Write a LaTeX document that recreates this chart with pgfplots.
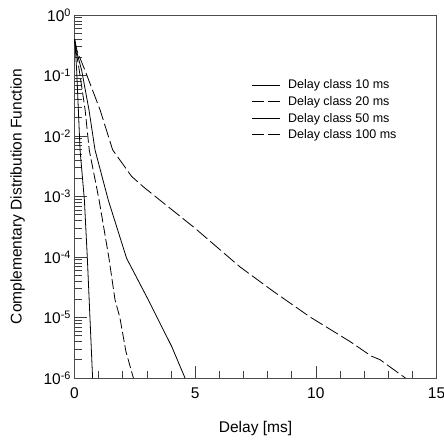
\documentclass[border=0pt]{standalone}
\usepackage{pgfplots}
\pgfplotsset{compat=1.18}
\usepackage{fontspec}
\setmainfont{Liberation Sans}
\begin{document}
\begin{tikzpicture}
\useasboundingbox (-74.5pt,-61pt) rectangle (369.5pt,378pt);
\begin{axis}[
    at={(0pt,0pt)}, anchor=south west,
    scale only axis,
    width=362pt, height=363pt,
    ymode=log, log basis y=10,
    xmin=0, xmax=15, ymin=1e-6, ymax=1,
    xtick={0,5,10,15}, minor xtick={1,2,3,4,6,7,8,9,11,12,13,14},
    ytick={1e-6,1e-5,1e-4,1e-3,1e-2,1e-1,1},
    minor ytick={2e-6,3e-6,4e-6,5e-6,6e-6,7e-6,8e-6,9e-6,
                 2e-5,3e-5,4e-5,5e-5,6e-5,7e-5,8e-5,9e-5,
                 2e-4,3e-4,4e-4,5e-4,6e-4,7e-4,8e-4,9e-4,
                 2e-3,3e-3,4e-3,5e-3,6e-3,7e-3,8e-3,9e-3,
                 2e-2,3e-2,4e-2,5e-2,6e-2,7e-2,8e-2,9e-2,
                 0.2,0.3,0.4,0.5,0.6,0.7,0.8,0.9},
    tick align=inside, xtick pos=left, ytick pos=left,
    major tick length=12pt, minor tick length=7pt,
    every tick/.style={black!75, line width=0.6pt},
    axis line style={black!70, line width=1pt},
    /pgf/number format/assume math mode=true,
    xticklabel style={font=\fontsize{15.5pt}{18pt}\selectfont, yshift=-6pt, inner xsep=0pt},
    yticklabel style={font=\fontsize{15.5pt}{18pt}\selectfont},
    yticklabel={\pgfmathparse{int(round(\tick))}10\textsuperscript{\pgfmathresult}},
    xlabel={Delay [ms]},
    ylabel={Complementary Distribution Function},
    xlabel style={at={(axis description cs:0.5,-0.138)}, anchor=center, font=\fontsize{15.5pt}{18pt}\selectfont},
    ylabel style={at={(axis description cs:-0.157,0.5)}, anchor=center, font=\fontsize{15.5pt}{18pt}\selectfont},
    legend style={at={(axis description cs:0.485,0.83)}, anchor=north west, draw=none, fill=none,
        font=\fontsize{12.5pt}{14pt}\selectfont, row sep=2pt, inner sep=1pt,
        /tikz/every odd column/.append style={column sep=6pt}},
    legend cell align=left,
    legend image code/.code={\draw[#1] (0pt,0pt) -- (28pt,0pt);},
]
% Delay class 10 ms
\addplot[black, line width=0.8pt] coordinates {(0,0.4) (0.04,0.26) (0.09,0.12) (0.16,0.027) (0.23,5.9e-3) (0.41,8.7e-4) (0.53,1e-4) (0.64,1e-5) (0.75,1e-6)};
% Delay class 20 ms
\addplot[black, line width=0.8pt, dash pattern=on 10pt off 3.5pt, legend image post style={dash pattern=on 12pt off 4pt}] coordinates {(0,0.4) (0.06,0.26) (0.2,0.12) (0.44,0.027) (0.61,5.9e-3) (1.02,8.7e-4) (1.42,1e-4) (1.68,1.95e-5) (1.88,1e-5) (2.13,2.75e-6) (2.44,1e-6)};
% Delay class 50 ms
\addplot[black, line width=0.8pt] coordinates {(0,0.4) (0.08,0.26) (0.3,0.12) (0.6,0.027) (0.85,5.9e-3) (1.4,8.7e-4) (2.16,9.5e-5) (3.06,1.95e-5) (4.03,3.3e-6) (4.58,1e-6)};
% Delay class 100 ms
\addplot[black, line width=0.8pt, dash pattern=on 14pt off 4pt, legend image post style={dash pattern=on 12pt off 4pt}] coordinates {(0,0.4) (0.1,0.26) (0.44,0.12) (1.06,0.027) (1.58,5.9e-3) (2.37,2.14e-3) (2.85,1.45e-3) (3.54,8.7e-4) (4.99,3.0e-4) (6.85,6.9e-5) (8.24,2.7e-5) (9.76,1.02e-5) (11.42,4.0e-6) (12.3,2.3e-6) (12.67,2.0e-6) (13.0,1.6e-6) (13.71,1e-6)};
\legend{Delay class 10 ms, Delay class 20 ms, Delay class 50 ms, Delay class 100 ms}
\end{axis}
\end{tikzpicture}
\end{document}
